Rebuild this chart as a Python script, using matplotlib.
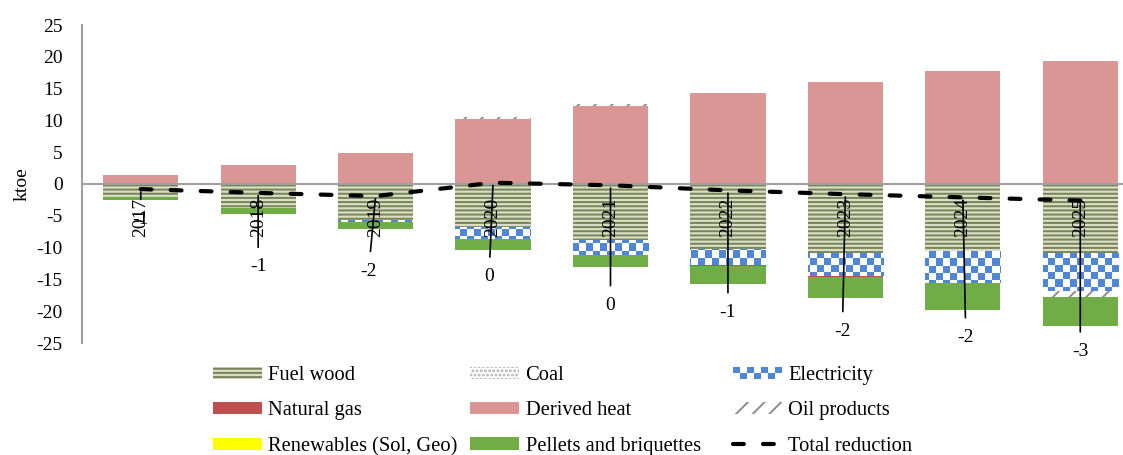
import numpy as np
import matplotlib
matplotlib.use('Agg')
import matplotlib.pyplot as plt
from matplotlib.colors import ListedColormap
from matplotlib.patches import Patch, Rectangle
from matplotlib.lines import Line2D

# data (ktoe)
years = ['2017', '2018', '2019', '2020', '2021', '2022', '2023', '2024', '2025']
fuel_wood = [-2.0, -3.7, -5.6, -6.8, -8.8, -10.2, -10.9, -10.5, -10.9]
coal = [0, 0, 0, 0, 0, 0, 0, 0, 0]
electricity = [0, 0, -0.3, -1.9, -2.4, -2.6, -3.6, -5.0, -5.9]
natural_gas = [0, 0, 0, 0, 0, -0.15, -0.15, 0, 0]
derived_heat = [1.4, 3.0, 4.8, 10.2, 12.3, 14.3, 16.0, 17.8, 19.3]
oil_products = [0, 0, 0, 0.3, 0.3, 0, 0, 0, -0.9]
renewables = [0, 0, 0, 0, 0, 0, 0, 0, 0]
pellets = [-0.5, -1.0, -1.1, -1.6, -1.9, -2.7, -3.2, -4.3, -4.6]
total_reduction = [-0.8, -1.4, -1.9, 0.2, -0.2, -1.0, -1.6, -2.1, -2.6]

# where the data labels sit (pixels below / beside the line point)
label_drop = [30, 74, 75, 94, 120, 122, 137, 140, 151]
label_shift = [0, 0, -7, -4, 0, 0, -3, 3, 0]

plt.rcParams['font.family'] = ['Liberation Serif', 'DejaVu Serif']
plt.rcParams['hatch.linewidth'] = 1.4
plt.rcParams['axes.unicode_minus'] = False

ELEC_BLUE = '#4f86d6'

fig = plt.figure(figsize=(11.23, 4.55), dpi=100)
ax = fig.add_axes([82/1123, 112/455, 1057/1123, 318/455])

x = np.arange(len(years))
w = 0.64

styles = {
    'Fuel wood': dict(facecolor='#d9ddc3', edgecolor='#78835a', hatch='----', linewidth=0),
    'Coal': dict(facecolor='white', edgecolor='#b0b0b0', hatch='....', linewidth=0),
    'Electricity': dict(facecolor='white', edgecolor='none', linewidth=0),
    'Natural gas': dict(facecolor='#c0504d', edgecolor='none', linewidth=0),
    'Derived heat': dict(facecolor='#d99694', edgecolor='none', linewidth=0),
    'Oil products': dict(facecolor='white', edgecolor='#8c8c8c', hatch='//', linewidth=0),
    'Renewables (Sol, Geo)': dict(facecolor='#ffff00', edgecolor='none', linewidth=0),
    'Pellets and briquettes': dict(facecolor='#70ad47', edgecolor='none', linewidth=0),
}
series = [('Fuel wood', fuel_wood), ('Coal', coal), ('Electricity', electricity),
          ('Natural gas', natural_gas), ('Derived heat', derived_heat),
          ('Oil products', oil_products), ('Renewables (Sol, Geo)', renewables),
          ('Pellets and briquettes', pellets)]

pos_base = np.zeros(len(years))
neg_base = np.zeros(len(years))
elec_bars = None
for name, vals in series:
    vals = np.array(vals, dtype=float)
    bottom = np.where(vals >= 0, pos_base, neg_base)
    bars = ax.bar(x, vals, w, bottom=bottom, zorder=2, **styles[name])
    if name == 'Electricity':
        elec_bars = bars
    pos_base += np.clip(vals, 0, None)
    neg_base += np.clip(vals, None, 0)

# checkerboard fill for electricity
ny, nx = 45, 151
checker = np.add.outer(np.arange(ny), np.arange(nx)) % 2
cmap = ListedColormap(['white', ELEC_BLUE])
for b in elec_bars:
    if b.get_height() == 0:
        continue
    im = ax.imshow(checker, cmap=cmap, extent=(-0.5, 8.5, -25, 25), aspect='auto',
                   interpolation='nearest', zorder=2.5)
    im.set_clip_path(b)

ax.set_xlim(-0.5, 8.5)
ax.set_ylim(-25, 25)

ax.plot(x, total_reduction, color='black', lw=3, dashes=(2.6, 4.6),
        dash_capstyle='round', zorder=5)

for xi, v, d, s in zip(x, total_reduction, label_drop, label_shift):
    ax.annotate(f'{int(round(v))}', xy=(xi, v), xytext=(s, -d), textcoords='offset pixels',
                ha='center', va='center', fontsize=14, zorder=6, annotation_clip=False,
                arrowprops=dict(arrowstyle='-', color='black', lw=1.2, shrinkA=6, shrinkB=2))

# axes styling
for sp in ['top', 'right']:
    ax.spines[sp].set_visible(False)
ax.spines['bottom'].set_position(('data', 0))
ax.spines['bottom'].set_color('#a0a0a0')
ax.spines['bottom'].set_linewidth(1.5)
ax.spines['bottom'].set_zorder(3)
ax.spines['left'].set_color('#a0a0a0')
ax.spines['left'].set_linewidth(1.5)
ax.set_xticks(x)
ax.set_xticklabels(years, rotation=90, fontsize=14)
ax.set_yticks(np.arange(-25, 26, 5))
ax.tick_params(axis='x', length=0, pad=10)
ax.tick_params(axis='y', length=0, pad=14, labelsize=14)
ax.xaxis.set_zorder(7)
ax.set_ylabel('ktoe', fontsize=14, labelpad=4)


class CheckerHandler:
    def legend_artist(self, legend, orig_handle, fontsize, handlebox):
        x0, y0 = -handlebox.xdescent, -handlebox.ydescent
        hw, hh = handlebox.width, handlebox.height
        cols, rows = 7, 2
        sw, sh = hw / cols, hh / rows
        tr = handlebox.get_transform()
        bg = Rectangle((x0, y0), hw, hh, facecolor='white', edgecolor='none', transform=tr)
        handlebox.add_artist(bg)
        for i in range(cols):
            for j in range(rows):
                if (i + j) % 2 == 1:
                    handlebox.add_artist(Rectangle((x0 + i*sw, y0 + j*sh), sw, sh,
                                                   facecolor=ELEC_BLUE, edgecolor='none',
                                                   transform=tr))
        return bg


h = {name: Patch(**styles[name]) for name, _ in series}
elec_handle = Patch(facecolor=ELEC_BLUE)
total_handle = Line2D([], [], color='black', lw=3, dashes=(2.6, 4.6), dash_capstyle='round')
h['Electricity'] = elec_handle
h['Total reduction'] = total_handle

# one legend per column so the columns line up with the original
legend_cols = [['Fuel wood', 'Natural gas', 'Renewables (Sol, Geo)'],
               ['Coal', 'Derived heat', 'Pellets and briquettes'],
               ['Electricity', 'Oil products', 'Total reduction']]
col_x = [213, 470, 733]
for names, cx in zip(legend_cols, col_x):
    fig.legend([h[k] for k in names], names, loc='upper left',
               bbox_to_anchor=(cx/1123, 1 - 366/455), ncol=1, frameon=False,
               fontsize=14.8, handlelength=2.4, handletextpad=0.3, handleheight=0.55,
               labelspacing=0.8, borderpad=0, borderaxespad=0,
               handler_map={elec_handle: CheckerHandler()})

fig.savefig('out.png', dpi=100)
